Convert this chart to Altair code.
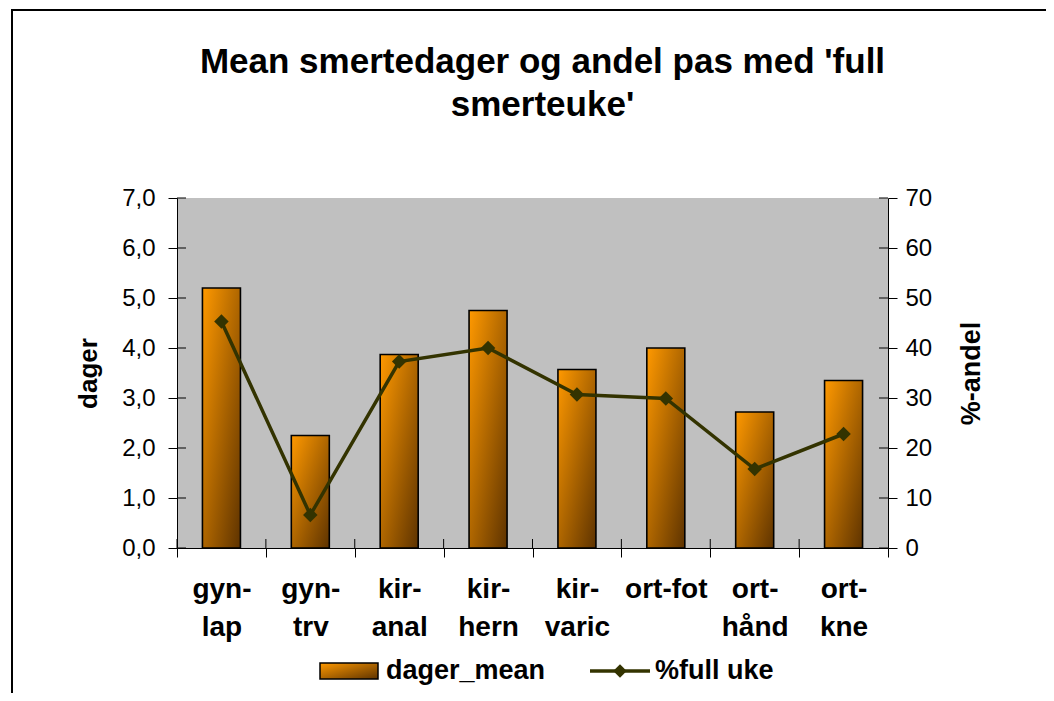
import altair as alt
import pandas as pd

# ---- data ----
categories = ["gyn- lap", "gyn- trv", "kir- anal", "kir- hern", "kir- varic", "ort-fot", "ort- hånd", "ort- kne"]
dager_mean = [5.2, 2.25, 3.87, 4.75, 3.57, 4.0, 2.72, 3.35]
full_uke = [45.3, 6.6, 37.3, 40.0, 30.7, 29.9, 15.8, 22.8]
left_ticks = [0, 1, 2, 3, 4, 5, 6, 7]
right_ticks = [0, 10, 20, 30, 40, 50, 60, 70]
title_lines = ["Mean smertedager og andel pas med 'full", "smerteuke'"]
series_names = ["dager_mean", "%full uke"]

FONT = "Liberation Sans"
W, H = 711, 350
LINE_COLOR = "#333300"

df = pd.DataFrame({"kategori": categories, "dager_mean": dager_mean, "full_uke": full_uke})
lt = pd.DataFrame({"v": left_ticks})
rt = pd.DataFrame({"v": right_ticks})
one = pd.DataFrame({"a": [0]})

grad = alt.Gradient(
    gradient="linear",
    stops=[alt.GradientStop(color="#FF9900", offset=0), alt.GradientStop(color="#5E3300", offset=1)],
    x1=0, y1=0, x2=1, y2=1,
)

xenc = alt.X(
    "kategori:N", sort=categories, scale=alt.Scale(paddingInner=0, paddingOuter=0),
    axis=alt.Axis(
        title=None, labelAngle=0, labelExpr="split(datum.label, ' ')",
        labelFont=FONT, labelFontSize=28, labelFontWeight="bold", labelColor="black",
        labelLineHeight=38, labelPadding=18, tickBand="extent", tickSize=9,
        tickColor="black", domainColor="black",
    ),
)
ldom = alt.Scale(domain=[0, 7], nice=False)
rdom = alt.Scale(domain=[0, 70], nice=False)

# chart-area frame (decoration)
frame = alt.Chart(one).mark_rect(filled=False, stroke="black", strokeWidth=2).encode(
    x=alt.value(-165), x2=alt.value(W + 400), y=alt.value(-188), y2=alt.value(H + 400)
)

bars = alt.Chart(df).mark_bar(size=38, fill=grad, stroke="black", strokeWidth=1.6).encode(
    x=xenc,
    y=alt.Y(
        "dager_mean:Q", scale=ldom,
        axis=alt.Axis(
            values=left_ticks, labelExpr="replace(format(datum.value, '.1f'), '.', ',')",
            labelFont=FONT, labelFontSize=24, labelColor="black", labelPadding=13,
            tickSize=9, tickColor="black", domainColor="black", grid=False,
            title="dager", titleFont=FONT, titleFontSize=26, titleFontWeight="bold",
            titleColor="black", titlePadding=20,
        ),
    ),
)

line = alt.Chart(df).mark_line(
    color=LINE_COLOR, strokeWidth=3.5,
    point=alt.OverlayMarkDef(shape="diamond", filled=True, size=210, color=LINE_COLOR, opacity=1),
).encode(
    x=alt.X("kategori:N", sort=categories),
    y=alt.Y(
        "full_uke:Q", scale=rdom,
        axis=alt.Axis(
            orient="right", values=right_ticks, format="d",
            labelFont=FONT, labelFontSize=24, labelColor="black", labelPadding=8,
            tickSize=9, tickColor="black", domainColor="black", grid=False,
            title="%-andel", titleFont=FONT, titleFontSize=27, titleFontWeight="bold",
            titleColor="black", titleAngle=270, titleBaseline="top", titlePadding=27,
        ),
    ),
)

# inward halves of the crossing tick marks
left_inner = alt.Chart(lt).mark_rule(color="black").encode(
    x=alt.value(0), x2=alt.value(9), y=alt.Y("v:Q", scale=ldom, axis=None)
)
right_inner = alt.Chart(rt).mark_rule(color="black").encode(
    x=alt.value(W - 9), x2=alt.value(W), y=alt.Y("v:Q", scale=rdom, axis=None)
)
x_inner = alt.Chart(df).mark_rule(color="black").encode(
    x=alt.X("kategori:N", sort=categories, bandPosition=0),
    y=alt.value(H - 9), y2=alt.value(H),
)

# legend drawn below the plot
LEG_Y = 473
leg_rect = alt.Chart(one).mark_rect(fill=grad, stroke="black", strokeWidth=1.5).encode(
    x=alt.value(143), x2=alt.value(201), y=alt.value(LEG_Y - 8), y2=alt.value(LEG_Y + 8)
)
leg_t1 = alt.Chart(pd.DataFrame({"t": [series_names[0]]})).mark_text(
    font=FONT, fontSize=27, fontWeight="bold", align="left", baseline="middle", color="black"
).encode(x=alt.value(209), y=alt.value(LEG_Y), text="t:N")
leg_line = alt.Chart(one).mark_rule(color=LINE_COLOR, strokeWidth=3.5).encode(
    x=alt.value(413), x2=alt.value(473), y=alt.value(LEG_Y)
)
leg_pt = alt.Chart(one).mark_point(shape="diamond", filled=True, size=180, color=LINE_COLOR, opacity=1).encode(
    x=alt.value(443), y=alt.value(LEG_Y)
)
leg_t2 = alt.Chart(pd.DataFrame({"t": [series_names[1]]})).mark_text(
    font=FONT, fontSize=27, fontWeight="bold", align="left", baseline="middle", color="black"
).encode(x=alt.value(478), y=alt.value(LEG_Y), text="t:N")

chart = (
    alt.layer(frame, bars, line, left_inner, right_inner, x_inner, leg_rect, leg_t1, leg_line, leg_pt, leg_t2)
    .resolve_scale(y="independent")
    .properties(
        width=W, height=H,
        title=alt.TitleParams(
            text=title_lines, font=FONT, fontSize=35, fontWeight="bold", color="black",
            anchor="middle", baseline="alphabetic", lineHeight=43, offset=-142, dx=10,
        ),
        autosize=alt.AutoSizeParams(type="none"),
        padding={"left": 169, "top": 190, "right": 158, "bottom": 145},
        background="white",
    )
    .configure_view(fill="#C0C0C0", strokeWidth=0)
)

chart.save("out.html", embed_options={"renderer": "svg", "actions": False})
